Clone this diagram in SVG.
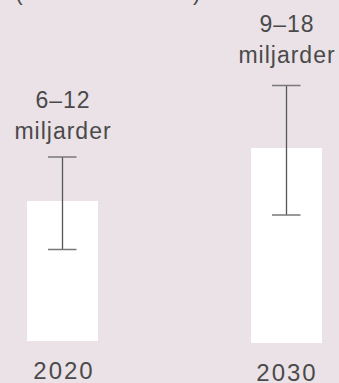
<svg xmlns="http://www.w3.org/2000/svg" width="339" height="383" viewBox="0 0 339 383">
<style>
.t{font-family:"Liberation Sans","Noto Sans",sans-serif;font-size:23px;fill:#4a4a4a;text-anchor:middle;letter-spacing:1px}
.y{font-size:24px;letter-spacing:2px}
.bar{fill:#ffffff}
.err{stroke:#555555;stroke-width:1.3;fill:none}
.cap{stroke:#777777;stroke-width:1.5;fill:none}
</style>
<rect width="339" height="383" fill="#eae2e7"/>
<g id="title">
<text class="t" x="15" y="0" style="text-anchor:start">(</text>
<text class="t" x="193" y="0" style="text-anchor:start">)</text>
</g>
<g id="bar2020">
<rect class="bar" x="27" y="201" width="71" height="140"/>
<text class="t y" x="64" y="379">2020</text>
</g>
<g id="bar2030">
<rect class="bar" x="251" y="148" width="71" height="195"/>
<text class="t y" x="287" y="381">2030</text>
</g>
<g id="label2020">
<text class="t" x="63" y="108">6–12</text>
<text class="t" x="63" y="139">miljarder</text>
</g>
<g id="label2030">
<text class="t" x="287" y="32">9–18</text>
<text class="t" x="287" y="63">miljarder</text>
</g>
<g id="connectors">
<line class="err" x1="62.5" y1="157" x2="62.5" y2="249"/>
<line class="cap" x1="48" y1="157" x2="76.5" y2="157"/>
<line class="cap" x1="48" y1="249.5" x2="76.5" y2="249.5"/>
<line class="err" x1="286.5" y1="85.5" x2="286.5" y2="215"/>
<line class="cap" x1="272" y1="85.5" x2="300.5" y2="85.5"/>
<line class="cap" x1="272" y1="215" x2="300.5" y2="215"/>
</g>
</svg>
